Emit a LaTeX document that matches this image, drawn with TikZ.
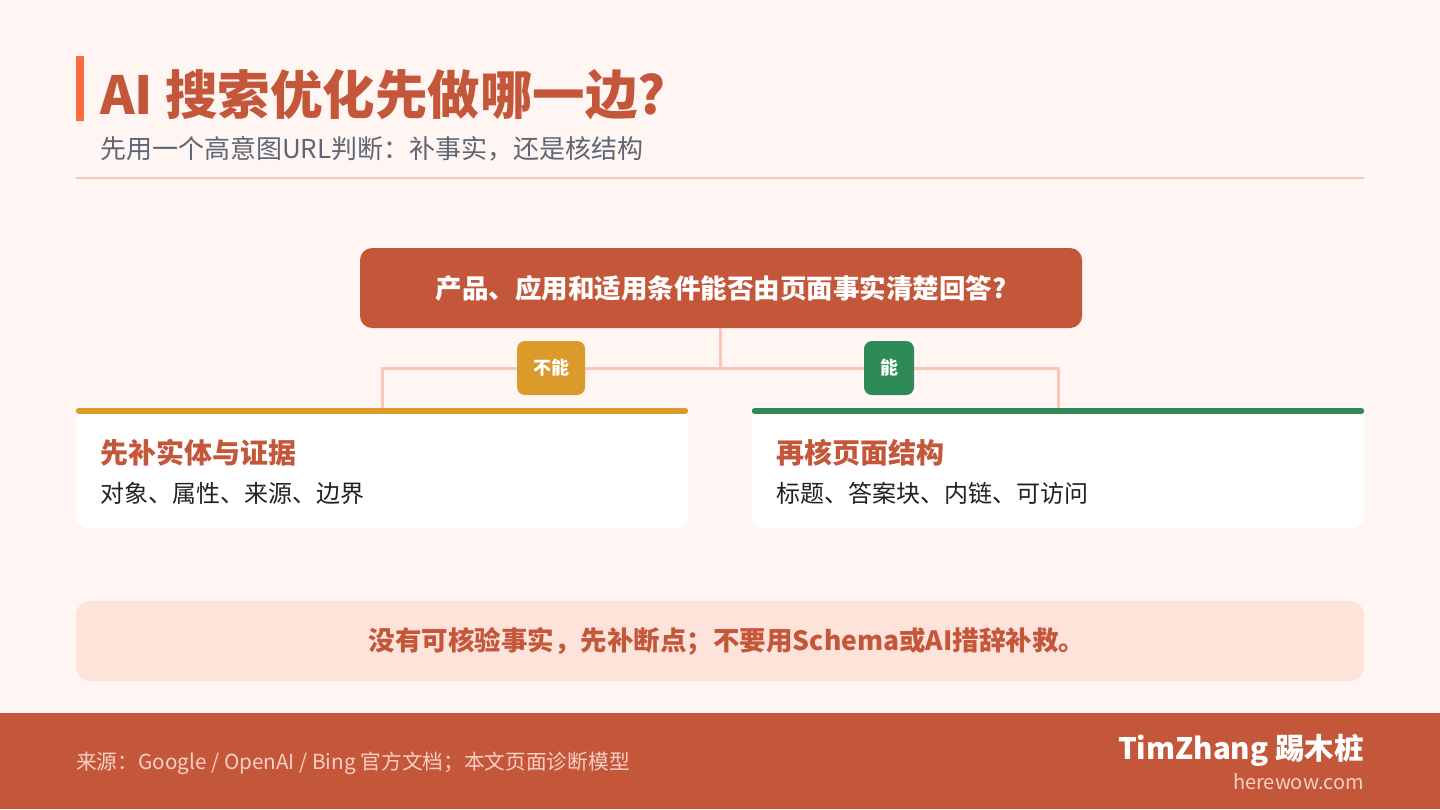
\documentclass[tikz,border=0pt]{standalone}
\usepackage{fontspec}
\setmainfont{Noto Sans CJK SC}
\usepackage{xcolor}
\usetikzlibrary{positioning,calc}
\definecolor{bgpaper}{HTML}{FFF6F3}
\definecolor{brand}{HTML}{C4563A}
\definecolor{accent}{HTML}{FF6B3D}
\definecolor{subgray}{HTML}{5F6673}
\definecolor{rule}{HTML}{FBC6B6}
\definecolor{gold}{HTML}{DA9A2C}
\definecolor{leaf}{HTML}{2E8B57}
\definecolor{notefill}{HTML}{FDE3DA}
\definecolor{foottext}{HTML}{F8D0C4}
\definecolor{ink}{HTML}{222222}

\begin{document}
\begin{tikzpicture}[x=1pt, y=-1pt,
		card/.style={fill=white, rounded corners=12pt, minimum width=612pt, minimum height=120pt, inner sep=0},
		badge/.style={rounded corners=8pt, minimum height=54pt, inner sep=0, text=white, font=\bfseries\fontsize{18}{20}\selectfont},
		link/.style={draw=rule, line width=3pt},
		txt/.style={anchor=west, inner sep=0}]
	\useasboundingbox (0,0) rectangle (1440,809);
	\fill[bgpaper] (0,0) rectangle (1440,809);

	% header
	\fill[accent] (76,56) rectangle (84,121);
	\node[txt, text=brand, font=\bfseries\fontsize{52.5}{58}\selectfont] (title) at (100,95) {AI 搜索优化先做哪一边?};
	\node[txt, text=subgray, font=\fontsize{26}{30}\selectfont] (subtitle) at (100,149) {先用一个高意图URL判断：补事实，还是核结构};
	\draw[rule, line width=2pt] (76,178) -- (1364,178);

	% question and branches
	\node[fill=brand, rounded corners=12pt, minimum width=722pt, minimum height=80pt, inner sep=0,
		text=white, font=\bfseries\fontsize{26.5}{30}\selectfont] (question) at (721,288) {产品、应用和适用条件能否由页面事实清楚回答?};
	\node[card] (fixCard) at (382,468) {};
	\node[card] (checkCard) at (1058,468) {};
	\coordinate (split) at (720,368);
	\draw[link] (720,328) -- (split);
	\draw[link] (split) -| (fixCard.north);
	\draw[link] (split) -| (checkCard.north);
	\draw[gold, line width=6pt, line cap=round] ($(fixCard.north west)+(3,3)$) -- ($(fixCard.north east)+(-3,3)$);
	\draw[leaf, line width=6pt, line cap=round] ($(checkCard.north west)+(3,3)$) -- ($(checkCard.north east)+(-3,3)$);
	\node[badge, fill=gold, minimum width=68pt] (noBadge) at (551,368) {不能};
	\node[badge, fill=leaf, minimum width=50pt] (yesBadge) at (889,368) {能};

	\node[txt, text=brand, font=\bfseries\fontsize{28}{32}\selectfont] (fixTitle) at (100,453) {先补实体与证据};
	\node[txt, text=ink, font=\fontsize{24}{28}\selectfont] (fixItems) at (100,493) {对象、属性、来源、边界};
	\node[txt, text=brand, font=\bfseries\fontsize{28}{32}\selectfont] (checkTitle) at (776,453) {再核页面结构};
	\node[txt, text=ink, font=\fontsize{24}{28}\selectfont] (checkItems) at (776,493) {标题、答案块、内链、可访问};

	% note
	\node[fill=notefill, rounded corners=14pt, minimum width=1288pt, minimum height=80pt, inner sep=0] (note) at (720,641) {};
	\node[text=brand, inner sep=0, font=\bfseries\fontsize{26.5}{30}\selectfont] (noteText) at (727,641) {没有可核验事实，先补断点；不要用Schema或AI措辞补救。};

	% footer
	\fill[brand] (0,713) rectangle (1440,809);
	\node[txt, text=foottext, font=\fontsize{20.7}{24}\selectfont] (source) at (76,763) {来源：Google / OpenAI / Bing 官方文档；本文页面诊断模型};
	\node[anchor=east, inner sep=0, text=white, font=\bfseries\fontsize{29.5}{33}\selectfont] (brandName) at (1364,750) {TimZhang 踢木桩};
	\node[anchor=east, inner sep=0, text=foottext, font=\fontsize{20}{24}\selectfont] (site) at (1364,782) {herewow.com};
\end{tikzpicture}
\end{document}
